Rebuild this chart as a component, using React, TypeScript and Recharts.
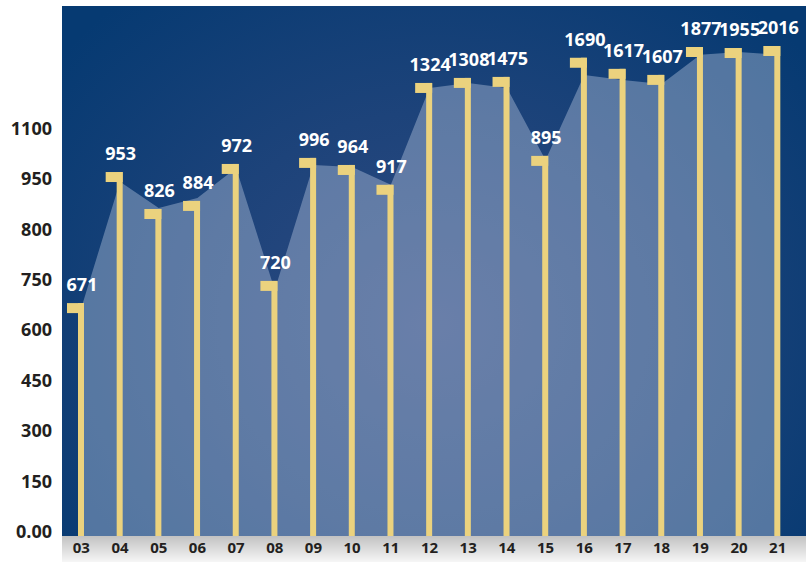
import React from 'react'
import { ComposedChart, Area, Bar, XAxis, YAxis, LabelList } from 'recharts'

// years along the bottom
const years = ['03', '04', '05', '06', '07', '08', '09', '10', '11', '12', '13', '14', '15', '16', '17', '18', '19', '20', '21']
// numbers printed above each bar
const printed = [671, 953, 826, 884, 972, 720, 996, 964, 917, 1324, 1308, 1475, 895, 1690, 1617, 1607, 1877, 1955, 2016]
// bar tops read against the drawn axis (evenly spaced ticks, see below)
const barTops = [693, 1083, 973, 997, 1107, 759, 1125, 1104, 1045, 1348, 1363, 1366, 1131, 1423, 1390, 1372, 1455, 1452, 1458]
// light silhouette behind the bars
const areaLevels = [679, 1054, 976, 1006, 1095, 732, 1104, 1098, 1045, 1333, 1348, 1333, 1119, 1372, 1357, 1345, 1432, 1440, 1432]
// the axis ticks are evenly spaced but labelled like this
const yTicks = [0, 150, 300, 450, 600, 750, 900, 1050, 1200]
const yTickLabels = ['0.00', '150', '300', '450', '600', '750', '800', '950', '1100']

const data = years.map((year, i) => ({
    year,
    top: barTops[i],
    level: areaLevels[i],
    printed: printed[i],
}))

const FONT = '"Open Sans", "DejaVu Sans", sans-serif'
const GOLD = '#ebd27e'

const YTick = (props: any) => {
    const { x, y, payload } = props
    const idx = yTicks.indexOf(payload.value)
    return (
        <text x={x} y={y - 5} textAnchor="end" dominantBaseline="central" fontFamily={FONT} fontSize={18} fontWeight={700} fill="#231f20">
            {yTickLabels[idx]}
        </text>
    )
}

const XTick = (props: any) => {
    const { x, y, payload } = props
    return (
        <text x={x} y={y} dy={17} textAnchor="middle" fontFamily={FONT} fontSize={15} fontWeight={700} fill="#231f20">
            {payload.value}
        </text>
    )
}

const FlagBar = (props: any) => {
    const { x, y, width, height } = props
    if (height <= 0) return null
    return (
        <g>
            <rect x={x} y={y} width={width} height={height} fill={GOLD} />
            <rect x={x - 11} y={y} width={17} height={10} fill={GOLD} />
        </g>
    )
}

const ValueLabel = (props: any) => {
    const { x, y, width, value } = props
    return (
        <text x={x + width / 2 + 1} y={y - 12} textAnchor="middle" fontFamily={FONT} fontSize={18} fontWeight={700} fill="#ffffff">
            {value}
        </text>
    )
}

export default function App() {
    return (
        <div style={{ position: 'relative', width: 806, height: 562, background: '#fff', overflow: 'hidden' }}>
            <style>{'body{margin:0}'}</style>
            <div
                style={{
                    position: 'absolute',
                    left: 62,
                    top: 6,
                    width: 744,
                    height: 530,
                    background: 'radial-gradient(ellipse 65% 80% at 50% 60%, #304b82 0%, #1d437a 50%, #063a72 100%)',
                }}
            />
            <div
                style={{
                    position: 'absolute',
                    left: 62,
                    top: 536,
                    width: 744,
                    height: 26,
                    background: 'linear-gradient(to bottom, #c2c2c2, #f6f6f6)',
                }}
            />
            <div style={{ position: 'absolute', left: 0, top: 0 }}>
                <ComposedChart width={806} height={562} data={data} margin={{ top: 6, right: 9, left: 0, bottom: 0 }} barCategoryGap={0}>
                    <XAxis dataKey="year" axisLine={false} tickLine={false} tickSize={0} tickMargin={0} height={26} tick={<XTick />} interval={0} />
                    <YAxis
                        domain={[0, 1577]}
                        ticks={yTicks}
                        axisLine={false}
                        tickLine={false}
                        tickSize={0}
                        tickMargin={10}
                        width={62}
                        tick={<YTick />}
                        allowDataOverflow
                    />
                    <Area
                        type="linear"
                        dataKey="level"
                        stroke="none"
                        fill="#c8d6ea"
                        fillOpacity={0.38}
                        isAnimationActive={false}
                    />
                    <Bar dataKey="top" barSize={6} fill={GOLD} shape={<FlagBar />} isAnimationActive={false}>
                        <LabelList dataKey="printed" content={<ValueLabel />} />
                    </Bar>
                </ComposedChart>
            </div>
        </div>
    )
}
